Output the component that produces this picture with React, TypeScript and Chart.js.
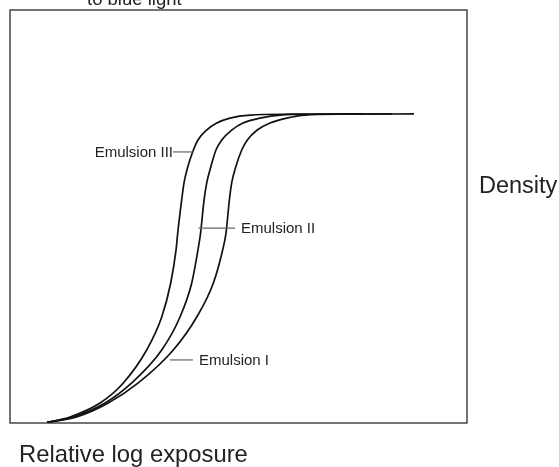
import React, { useEffect, useRef } from "react";
import { Chart, registerables } from "chart.js";

Chart.register(...registerables);

// Relative log exposure (x) and density (y)
const emulsionIX = [0.243, 0.438, 0.645, 0.842, 1.072, 1.226, 1.335, 1.396, 1.418, 1.44, 1.455, 1.482, 1.521, 1.558, 1.623, 1.707, 1.816, 1.937, 2.199, 2.652];
const emulsionIY = [0.004, 0.044, 0.145, 0.291, 0.53, 0.77, 1.017, 1.257, 1.38, 1.62, 1.743, 1.86, 1.983, 2.056, 2.128, 2.179, 2.215, 2.237, 2.243, 2.245];

const emulsionIIX = [0.243, 0.414, 0.624, 0.799, 0.996, 1.116, 1.193, 1.234, 1.251, 1.274, 1.291, 1.318, 1.352, 1.39, 1.455, 1.53, 1.641, 1.772, 2.035, 2.508];
const emulsionIIY = [0.004, 0.044, 0.145, 0.291, 0.53, 0.77, 1.017, 1.257, 1.38, 1.62, 1.743, 1.86, 1.983, 2.056, 2.128, 2.179, 2.215, 2.237, 2.243, 2.245];

const emulsionIIIX = [0.243, 0.394, 0.591, 0.744, 0.897, 0.996, 1.055, 1.09, 1.101, 1.127, 1.142, 1.167, 1.199, 1.234, 1.291, 1.357, 1.444, 1.576, 1.838, 2.311];
const emulsionIIIY = [0.004, 0.044, 0.145, 0.291, 0.53, 0.77, 1.017, 1.257, 1.38, 1.62, 1.743, 1.86, 1.969, 2.056, 2.128, 2.179, 2.215, 2.237, 2.243, 2.245];

const seriesNames = ["Emulsion I", "Emulsion II", "Emulsion III"];

// Label callouts: leader line from x0 to x1 at y (data units), text side
const labelNames = ["Emulsion III", "Emulsion II", "Emulsion I"];
const labelY = [1.969, 1.416, 0.458];
const labelX0 = [1.07, 1.237, 1.05];
const labelX1 = [1.201, 1.477, 1.201];
const labelSide = ["left", "right", "right"];

const xTitle = "Relative log exposure";
const yTitle = "Density";
const topTitle = "to blue light";

const FONT = "'Liberation Sans', Arial, Helvetica, sans-serif";

const toPoints = (xs: number[], ys: number[]) => xs.map((x, i) => ({ x, y: ys[i] }));

const annotationPlugin = {
  id: "annotations",
  afterDraw(chart: any) {
    const { ctx, chartArea } = chart;
    const xs = chart.scales.x;
    const ys = chart.scales.y;
    ctx.save();
    // frame
    ctx.strokeStyle = "#2a2a2a";
    ctx.lineWidth = 1.3;
    ctx.strokeRect(chartArea.left, chartArea.top, chartArea.right - chartArea.left, chartArea.bottom - chartArea.top);

    // callouts
    ctx.font = `15px ${FONT}`;
    ctx.textBaseline = "middle";
    for (let i = 0; i < labelNames.length; i++) {
      const py = ys.getPixelForValue(labelY[i]);
      const p0 = xs.getPixelForValue(labelX0[i]);
      const p1 = xs.getPixelForValue(labelX1[i]);
      ctx.strokeStyle = "#666";
      ctx.lineWidth = 1.2;
      ctx.beginPath();
      ctx.moveTo(p0, py);
      ctx.lineTo(p1, py);
      ctx.stroke();
      ctx.fillStyle = "#222";
      if (labelSide[i] === "left") {
        ctx.textAlign = "right";
        ctx.fillText(labelNames[i], p0, py + 1);
      } else {
        ctx.textAlign = "left";
        ctx.fillText(labelNames[i], p1 + 6, py + 1);
      }
    }

    // titles
    ctx.fillStyle = "#222";
    ctx.textBaseline = "alphabetic";
    ctx.textAlign = "left";
    ctx.font = `23.8px ${FONT}`;
    ctx.fillText(xTitle, chartArea.left + 9, chartArea.bottom + 39);
    ctx.font = `23.5px ${FONT}`;
    ctx.fillText(yTitle, chartArea.right + 12, ys.getPixelForValue(1.674));
    ctx.font = `18.5px ${FONT}`;
    ctx.fillText(topTitle, chartArea.left + 77, chartArea.top - 5);
    ctx.restore();
  },
};

export default function App() {
  const ref = useRef<HTMLCanvasElement | null>(null);
  useEffect(() => {
    if (!ref.current) return;
    const line = { borderColor: "#111", borderWidth: 1.7, pointRadius: 0, fill: false, cubicInterpolationMode: "monotone" as const };
    const chart = new Chart(ref.current, {
      type: "line",
      data: {
        datasets: [
          { label: seriesNames[0], data: toPoints(emulsionIX, emulsionIY), ...line },
          { label: seriesNames[1], data: toPoints(emulsionIIX, emulsionIIY), ...line },
          { label: seriesNames[2], data: toPoints(emulsionIIIX, emulsionIIIY), ...line },
        ],
      },
      options: {
        animation: false,
        responsive: false,
        devicePixelRatio: 1,
        layout: { padding: { left: 10, top: 10, right: 92, bottom: 44 } },
        scales: {
          x: { type: "linear", min: 0, max: 3, display: false },
          y: { type: "linear", min: 0, max: 3, display: false },
        },
        plugins: { legend: { display: false }, tooltip: { enabled: false } },
      },
      plugins: [annotationPlugin],
    });
    return () => chart.destroy();
  }, []);
  return (
    <div style={{ position: "fixed", left: 0, top: 0, width: 559, height: 467, background: "#fff" }}>
      <canvas ref={ref} width={559} height={467} style={{ display: "block" }} />
    </div>
  );
}
